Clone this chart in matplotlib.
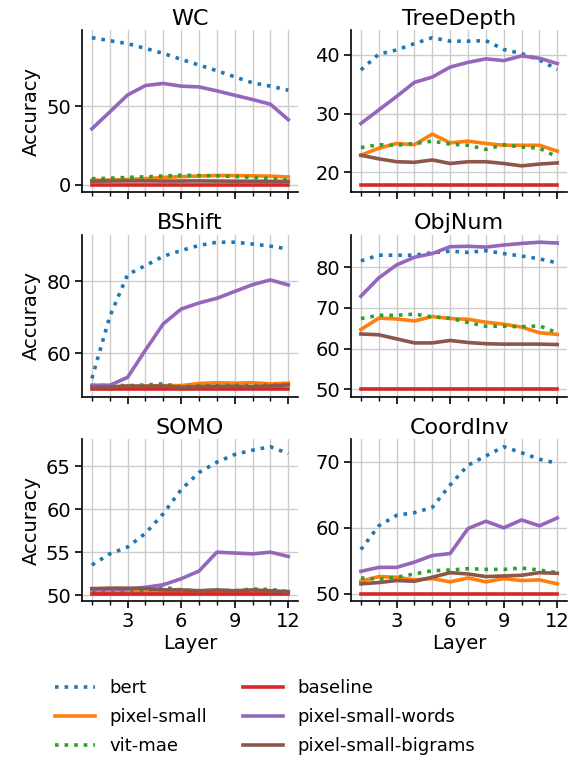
import numpy as np
import matplotlib
matplotlib.use("Agg")
import matplotlib.pyplot as plt
from matplotlib.ticker import MultipleLocator, FixedLocator

layers = list(range(1, 13))
tasks = ["WC", "TreeDepth", "BShift", "ObjNum", "SOMO", "CoordInv"]
models = ["bert", "pixel-small", "vit-mae", "baseline", "pixel-small-words", "pixel-small-bigrams"]

bert = {
    "WC": [93.6, 91.7, 89.8, 86.8, 83.6, 79.8, 76.2, 72.6, 68.7, 64.9, 62.8, 60.2],
    "TreeDepth": [37.4, 40.1, 40.8, 41.9, 42.9, 42.3, 42.3, 42.4, 40.9, 40.2, 39.1, 37.5],
    "BShift": [53.0, 70.2, 81.9, 84.4, 87.0, 88.6, 90.0, 90.9, 90.9, 90.4, 89.8, 89.0],
    "ObjNum": [81.6, 83.0, 83.0, 83.0, 83.6, 84.0, 83.7, 84.1, 83.4, 82.8, 82.1, 81.1],
    "SOMO": [53.5, 54.8, 55.6, 57.2, 59.5, 62.3, 64.3, 65.5, 66.4, 66.9, 67.3, 66.5],
    "CoordInv": [56.7, 60.3, 61.9, 62.3, 63.1, 66.5, 69.5, 70.9, 72.3, 71.4, 70.4, 69.8],
}
pixel_small = {
    "WC": [3.0, 3.2, 3.5, 4.0, 4.8, 5.3, 5.7, 6.0, 6.0, 5.8, 5.6, 5.1],
    "TreeDepth": [22.9, 24.1, 24.9, 24.7, 26.5, 25.0, 25.3, 24.9, 24.6, 24.6, 24.6, 23.6],
    "BShift": [50.6, 50.7, 50.8, 50.9, 51.0, 51.0, 51.6, 51.8, 51.7, 51.8, 51.5, 51.7],
    "ObjNum": [64.7, 67.5, 67.3, 66.8, 67.9, 67.4, 67.2, 66.5, 66.0, 65.3, 63.9, 63.5],
    "SOMO": [50.35, 50.35, 50.4, 50.35, 50.3, 50.35, 50.3, 50.4, 50.3, 50.35, 50.3, 50.3],
    "CoordInv": [51.9, 52.6, 52.5, 52.1, 52.3, 51.8, 52.4, 51.8, 52.3, 52.0, 52.1, 51.5],
}
vit_mae = {
    "WC": [4.0, 4.3, 4.8, 5.2, 5.7, 6.2, 6.0, 5.8, 5.4, 4.8, 4.0, 3.0],
    "TreeDepth": [24.2, 24.7, 24.6, 24.9, 25.3, 24.8, 24.6, 23.9, 24.7, 24.3, 24.1, 22.6],
    "BShift": [51.0, 51.1, 51.0, 51.2, 51.5, 50.6, 50.9, 51.0, 51.1, 51.0, 51.2, 51.1],
    "ObjNum": [67.4, 68.2, 68.2, 68.5, 67.8, 67.5, 66.4, 65.5, 65.5, 65.4, 65.6, 63.9],
    "SOMO": [50.4, 50.4, 50.45, 50.5, 50.9, 50.6, 50.5, 50.55, 50.5, 50.7, 50.65, 50.4],
    "CoordInv": [52.4, 52.2, 52.5, 53.0, 53.5, 53.6, 53.8, 53.7, 53.7, 53.9, 53.6, 53.2],
}
baseline = {
    "WC": [0.2] * 12,
    "TreeDepth": [17.9] * 12,
    "BShift": [50.0] * 12,
    "ObjNum": [50.0] * 12,
    "SOMO": [50.15] * 12,
    "CoordInv": [50.0] * 12,
}
pixel_small_words = {
    "WC": [35.7, 46.4, 57.2, 63.2, 64.5, 62.8, 62.3, 59.8, 57.0, 54.3, 51.3, 41.5],
    "TreeDepth": [28.3, 30.6, 32.9, 35.3, 36.2, 37.9, 38.7, 39.3, 39.0, 39.8, 39.4, 38.5],
    "BShift": [51.1, 51.1, 53.3, 60.9, 68.2, 72.3, 74.0, 75.3, 77.2, 79.1, 80.4, 79.0],
    "ObjNum": [72.9, 77.4, 80.6, 82.5, 83.4, 85.1, 85.2, 85.0, 85.5, 85.9, 86.2, 86.0],
    "SOMO": [50.7, 50.7, 50.7, 50.9, 51.2, 51.9, 52.8, 55.0, 54.9, 54.8, 55.0, 54.5],
    "CoordInv": [53.4, 54.0, 54.0, 54.8, 55.8, 56.1, 59.9, 61.0, 60.0, 61.2, 60.3, 61.5],
}
pixel_small_bigrams = {
    "WC": [2.4, 2.5, 2.6, 2.6, 2.5, 2.5, 2.6, 2.5, 2.4, 2.4, 2.3, 2.3],
    "TreeDepth": [22.9, 22.3, 21.8, 21.7, 22.1, 21.5, 21.8, 21.8, 21.5, 21.1, 21.4, 21.6],
    "BShift": [50.5, 50.6, 50.9, 50.8, 50.9, 50.5, 50.7, 50.8, 50.8, 50.7, 50.9, 51.2],
    "ObjNum": [63.6, 63.4, 62.4, 61.4, 61.4, 62.0, 61.5, 61.2, 61.1, 61.1, 61.1, 61.0],
    "SOMO": [50.75, 50.8, 50.8, 50.75, 50.6, 50.6, 50.5, 50.6, 50.5, 50.6, 50.5, 50.4],
    "CoordInv": [51.5, 51.7, 52.0, 51.9, 52.5, 53.2, 53.0, 52.6, 52.7, 52.8, 53.2, 53.1],
}
ytick_values = {
    "WC": [0, 50],
    "TreeDepth": [20, 30, 40],
    "BShift": [60, 80],
    "ObjNum": [50, 60, 70, 80],
    "SOMO": [50, 55, 60, 65],
    "CoordInv": [50, 60, 70],
}
xtick_major = [3, 6, 9, 12]

series = [bert, pixel_small, vit_mae, baseline, pixel_small_words, pixel_small_bigrams]
colors = ["#1f77b4", "#ff7f0e", "#2ca02c", "#d62728", "#9467bd", "#8c564b"]
styles = [":", "-", ":", "-", "-", "-"]

plt.rcParams["font.family"] = "DejaVu Sans"
plt.rcParams["font.size"] = 14

fig, axes = plt.subplots(3, 2, figsize=(5.74, 7.58), dpi=100, sharex=True)
fig.subplots_adjust(left=0.143, right=0.988, top=0.960, bottom=0.207,
                    wspace=0.245, hspace=0.265)

handles = []
for idx, (ax, task) in enumerate(zip(axes.flat, tasks)):
    for s, name, c, ls in zip(series, models, colors, styles):
        h, = ax.plot(layers, s[task], color=c, linestyle=ls, linewidth=2.6,
                     label=name, zorder=3)
        if idx == 0:
            handles.append(h)
    ax.set_title(task, fontsize=16, pad=4)
    ax.xaxis.set_major_locator(FixedLocator(xtick_major))
    ax.xaxis.set_minor_locator(MultipleLocator(1))
    ax.yaxis.set_major_locator(FixedLocator(ytick_values[task]))
    ax.grid(True, which="major", axis="both", color="#cccccc", linewidth=1.0, zorder=0)
    ax.grid(True, which="minor", axis="x", color="#cccccc", linewidth=1.0, zorder=0)
    ax.spines["top"].set_visible(False)
    ax.spines["right"].set_visible(False)
    ax.tick_params(axis="both", which="major", length=5, width=1.2, labelsize=14, pad=3)
    ax.tick_params(axis="x", which="minor", length=3, width=1.0)
    for sp in ("left", "bottom"):
        ax.spines[sp].set_linewidth(1.2)
    if idx % 2 == 0:
        ax.set_ylabel("Accuracy", fontsize=14)
    if idx >= 4:
        ax.set_xlabel("Layer", fontsize=14, labelpad=2)

fig.legend(handles, models, ncol=2, loc="center",
           bbox_to_anchor=(265 / 574, 1 - 717 / 758), frameon=False, fontsize=13,
           handlelength=2.2, handletextpad=0.8, columnspacing=2.0, labelspacing=0.6)

fig.savefig("out.png", dpi=100)
